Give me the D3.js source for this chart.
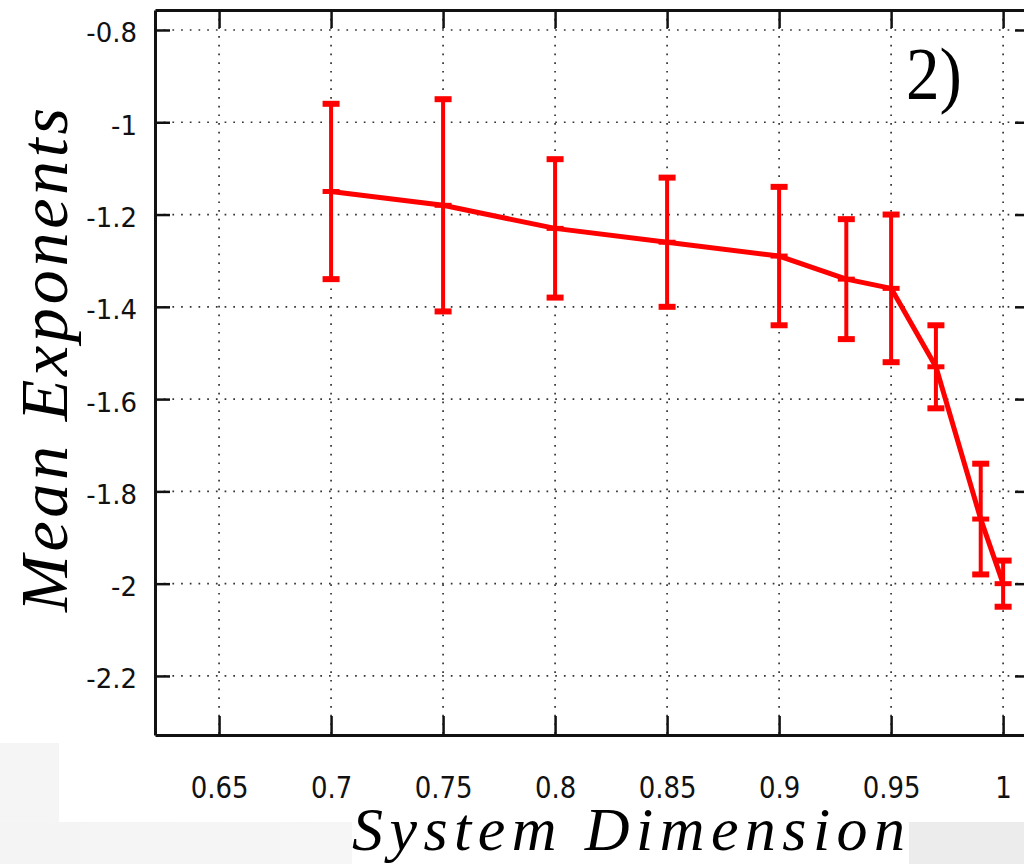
<!DOCTYPE html>
<html>
<head>
<meta charset="utf-8">
<script src="https://cdn.jsdelivr.net/npm/d3@7"></script>
<style>
  html, body { margin: 0; padding: 0; background: #ffffff; }
  svg { display: block; }
</style>
</head>
<body>
<svg id="chart" width="1024" height="864"></svg>
<script>
// System dimension (x) against the mean exponent with its error band
const dims   = [0.70, 0.75, 0.80, 0.85, 0.90, 0.93, 0.95, 0.97, 0.99, 1.00];
const means  = [-1.15, -1.18, -1.23, -1.26, -1.29, -1.34, -1.36, -1.53, -1.86, -2.00];
const uppers = [-0.96, -0.95, -1.08, -1.12, -1.14, -1.21, -1.20, -1.44, -1.74, -1.95];
const lowers = [-1.34, -1.41, -1.38, -1.40, -1.44, -1.47, -1.52, -1.62, -1.98, -2.05];

const xTicks = [0.65, 0.70, 0.75, 0.80, 0.85, 0.90, 0.95, 1.00];
const yTicks = [-0.8, -1.0, -1.2, -1.4, -1.6, -1.8, -2.0, -2.2];

const svg = d3.select("#chart");

// page backdrop panels
const defs = svg.append("defs");
const grad = defs.append("linearGradient").attr("id", "shade").attr("x1", 0).attr("x2", 1).attr("y1", 0).attr("y2", 0);
grad.append("stop").attr("offset", 0).attr("stop-color", "#f4f4f4");
grad.append("stop").attr("offset", 1).attr("stop-color", "#f6f6f6");
svg.append("rect").attr("x", 0).attr("y", 743).attr("width", 59).attr("height", 121).attr("fill", "#f5f5f5");
svg.append("rect").attr("x", 0).attr("y", 822).attr("width", 352).attr("height", 42).attr("fill", "url(#shade)");
svg.append("rect").attr("x", 909).attr("y", 822).attr("width", 115).attr("height", 42).attr("fill", "#ececec");

const plotL = 155, plotR = 1030, plotT = 10, plotB = 735;
const x = d3.scaleLinear().domain([0.6214, 1.012]).range([plotL, plotR]);
const y = d3.scaleLinear().domain([-2.328, -0.7567]).range([plotB, plotT]);

const fmt = d => String(+d.toFixed(2));

// dotted grid
const grid = svg.append("g")
  .attr("stroke", "#333").attr("stroke-width", 1.7)
  .attr("stroke-dasharray", "1.7 7").attr("fill", "none");
grid.selectAll("line.v").data(xTicks).join("line").attr("class", "v")
  .attr("x1", d => x(d)).attr("x2", d => x(d)).attr("y1", plotT).attr("y2", plotB);
grid.selectAll("line.h").data(yTicks).join("line").attr("class", "h")
  .attr("y1", d => y(d)).attr("y2", d => y(d)).attr("x1", plotL).attr("x2", plotR);

function styleAxis(g) {
  g.select(".domain").attr("stroke", "#111").attr("stroke-width", 3);
  g.selectAll(".tick line").attr("stroke", "#111").attr("stroke-width", 2.5);
}

// bottom axis
const gx = svg.append("g").attr("transform", `translate(0,${plotB})`)
  .call(d3.axisBottom(x).tickValues(xTicks).tickSize(-19).tickSizeOuter(0).tickFormat(fmt));
styleAxis(gx);
gx.selectAll(".tick text")
  .attr("y", 0).attr("dy", 0)
  .attr("transform", "translate(0,63) scale(1,1.15)")
  .attr("fill", "#111")
  .style("font-family", "'DejaVu Sans', sans-serif").style("font-size", "26px");

// top axis
const gt = svg.append("g").attr("transform", `translate(0,${plotT})`)
  .call(d3.axisTop(x).tickValues(xTicks).tickSize(-18).tickSizeOuter(0).tickFormat(""));
styleAxis(gt);

// left axis
const gy = svg.append("g").attr("transform", `translate(${plotL},0)`)
  .call(d3.axisLeft(y).tickValues(yTicks).tickSize(-15).tickSizeOuter(0).tickFormat(fmt));
styleAxis(gy);
gy.selectAll(".tick text")
  .attr("x", -18).attr("dy", 12)
  .attr("fill", "#111")
  .style("font-family", "'DejaVu Sans', sans-serif").style("font-size", "26px");

// right axis
const gr = svg.append("g").attr("transform", `translate(${plotR},0)`)
  .call(d3.axisRight(y).tickValues(yTicks).tickSize(-15).tickSizeOuter(0).tickFormat(""));
styleAxis(gr);

// mean curve
const pts = dims.map((d, i) => ({ d, m: means[i], hi: uppers[i], lo: lowers[i] }));
svg.append("path")
  .datum(pts)
  .attr("fill", "none").attr("stroke", "#ff0000").attr("stroke-width", 5)
  .attr("stroke-linejoin", "round")
  .attr("d", d3.line().x(p => x(p.d)).y(p => y(p.m)));

// error bars
const eb = svg.append("g").attr("stroke", "#ff0000");
const bars = eb.selectAll("g").data(pts).join("g");
bars.append("line")
  .attr("x1", p => x(p.d)).attr("x2", p => x(p.d))
  .attr("y1", p => y(p.hi)).attr("y2", p => y(p.lo))
  .attr("stroke-width", 4);
const capW = 8.5;
[["hi", 6], ["lo", 6], ["m", 5]].forEach(([k, w]) => {
  bars.append("line")
    .attr("x1", p => x(p.d) - capW).attr("x2", p => x(p.d) + capW)
    .attr("y1", p => y(p[k])).attr("y2", p => y(p[k]))
    .attr("stroke-width", w);
});

// axis titles and panel tag
svg.append("text")
  .attr("transform", "translate(67,360) rotate(-90)")
  .attr("text-anchor", "middle")
  .attr("textLength", 504).attr("lengthAdjust", "spacing")
  .style("font-family", "'Liberation Serif', 'DejaVu Serif', serif")
  .style("font-style", "italic").style("font-size", "68px")
  .attr("fill", "#000")
  .text("Mean Exponents");

svg.append("text")
  .attr("x", 352).attr("y", 850)
  .attr("textLength", 553).attr("lengthAdjust", "spacing")
  .style("font-family", "'Liberation Serif', 'DejaVu Serif', serif")
  .style("font-style", "italic").style("font-size", "62px")
  .attr("fill", "#000")
  .text("System Dimension");

svg.append("text")
  .attr("x", 906).attr("y", 99)
  .attr("textLength", 56).attr("lengthAdjust", "spacingAndGlyphs")
  .style("font-family", "'Liberation Serif', 'DejaVu Serif', serif")
  .style("font-size", "74px")
  .attr("fill", "#000")
  .text("2)");
</script>
</body>
</html>
